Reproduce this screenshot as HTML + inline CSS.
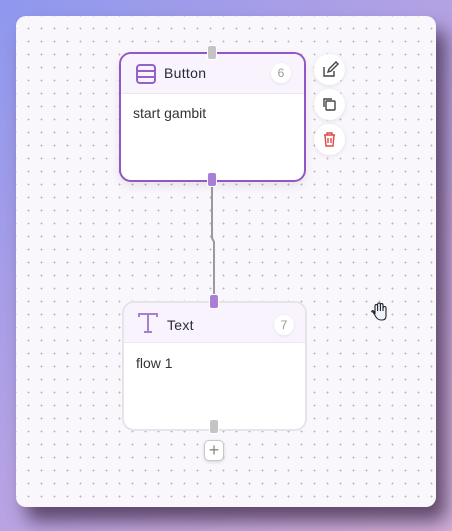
<!DOCTYPE html>
<html><head><style>
*{margin:0;padding:0;box-sizing:border-box}
body{width:452px;height:531px;overflow:hidden;position:relative;font-family:"Liberation Sans",sans-serif;
background:linear-gradient(135deg,#8e98ee 0%,#ab9fe6 35%,#c4a8df 70%,#cfaed8 100%);}
.card{position:absolute;left:16px;top:16px;width:420px;height:491px;border-radius:10px;
background-color:#f9f7fc;background-image:radial-gradient(circle,#b9b5c2 0.8px,transparent 1px);
background-size:13px 13px;background-position:6px 6px;
box-shadow:10px 14px 18px rgba(60,40,70,.75);}
.node{position:absolute;background:#fff;border-radius:12px;overflow:visible}
.hdr{position:absolute;left:0;right:0;top:0;background:#f8f3fd;border-bottom:1px solid #ece6f0;border-radius:10px 10px 0 0}
.title{position:absolute;font-size:14px;color:#2a2a35;letter-spacing:.3px}
.badge{position:absolute;width:20px;height:20px;border-radius:50%;background:#fff;font-size:12px;color:#999;text-align:center;line-height:20px;box-shadow:0 1px 3px rgba(0,0,0,.08)}
.body{position:absolute;font-size:14px;color:#333}
.h{position:absolute;width:10px;height:15px;border-radius:3px;border:1px solid #fff}
.act{position:absolute;width:31px;height:31px;border-radius:50%;background:#fff;box-shadow:0 1px 5px rgba(0,0,0,.1)}
</style></head><body>
<div class="card"></div>
<svg style="position:absolute;left:0;top:0" width="452" height="531">
<polyline points="212,186 212,238 214,242 214,296" fill="none" stroke="#9a9a9a" stroke-width="2"/>
</svg>
<div class="node" style="left:119px;top:52px;width:187px;height:130px;border:2px solid #9157c6;box-shadow:0 4px 10px rgba(0,0,0,.08)">
<div class="hdr" style="height:40px"></div>
<svg style="position:absolute;left:15px;top:10px" width="20" height="20"><rect x="1" y="1" width="18" height="18" rx="3" fill="none" stroke="#9460c9" stroke-width="2"/><line x1="1" y1="7" x2="19" y2="7" stroke="#9460c9" stroke-width="2"/><line x1="1" y1="13" x2="19" y2="13" stroke="#9460c9" stroke-width="2"/></svg>
<div class="title" style="left:43px;top:11px">Button</div>
<div class="badge" style="left:150px;top:9px">6</div>
<div class="body" style="left:12px;top:51px">start gambit</div>
</div>
<div class="node" style="left:122px;top:301px;width:185px;height:130px;border:2px solid #e6e4ea">
<div class="hdr" style="height:40px"></div>
<svg style="position:absolute;left:14px;top:10px" width="20" height="20"><path d="M1 4V1h18v3M10 1v18M6 19h8" fill="none" stroke="#a57fd4" stroke-width="2"/></svg>
<div class="title" style="left:43px;top:14px">Text</div>
<div class="badge" style="left:150px;top:12px">7</div>
<div class="body" style="left:12px;top:52px">flow 1</div>
</div>
<div class="h" style="left:207px;top:45px;background:#c4c4c4"></div>
<div class="h" style="left:207px;top:172px;background:#a97fd3"></div>
<div class="h" style="left:209px;top:294px;background:#a97fd3"></div>
<div class="h" style="left:209px;top:419px;background:#c4c4c4"></div>
<div style="position:absolute;left:204px;top:440px;width:20px;height:21px;border-radius:5px;background:#fff;border:1px solid #c8c8c8;box-shadow:0 1px 3px rgba(0,0,0,.15);text-align:center;line-height:18px;font-size:18px;color:#888">+</div>
<div class="act" style="left:314px;top:54px"><svg width="31" height="31"><path d="M10 13v9h10v-5" fill="none" stroke="#444" stroke-width="1.4"/><path d="M14 18l1-3 7-7 2 2-7 7z" fill="none" stroke="#444" stroke-width="1.4"/></svg></div>
<div class="act" style="left:314px;top:89px"><svg width="31" height="31"><rect x="12" y="12" width="9" height="9" rx="1" fill="none" stroke="#444" stroke-width="1.4"/><path d="M10 18V10h8" fill="none" stroke="#444" stroke-width="1.4"/></svg></div>
<div class="act" style="left:314px;top:124px"><svg width="31" height="31"><path d="M10 11h11M13 11v-2h5v2M11 11l1 11h7l1-11M14 14v5M17 14v5" fill="none" stroke="#e04848" stroke-width="1.4"/></svg></div>
<svg style="position:absolute;left:369px;top:302px" width="20" height="20"><path d="M4 10l3 5q2 3 5 3h1q4 0 4-4V6q0-1.5-1.3-1.5T14 6v3V3q0-1.5-1.3-1.5T11.4 3v6V2.5Q11.4 1 10 1T8.6 2.5V9V4q0-1.5-1.3-1.5T6 4v8L5 9.5Q4 8 3 9t1 1z" fill="#eef4ff" stroke="#222" stroke-width="1.1"/></svg>
</body></html>
